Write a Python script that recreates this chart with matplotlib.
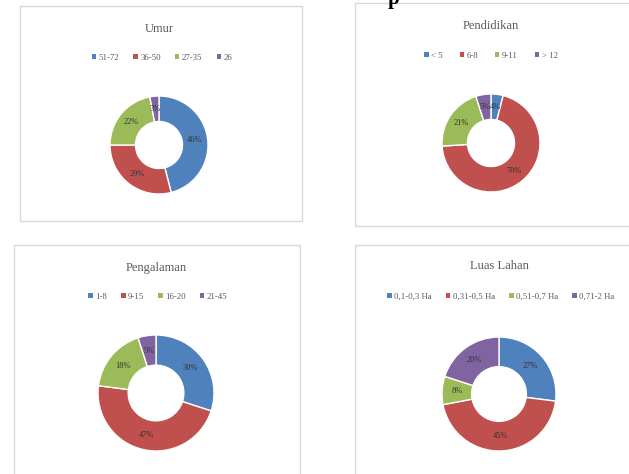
import matplotlib
matplotlib.use("Agg")
import matplotlib.pyplot as plt
import numpy as np
from matplotlib.patches import Rectangle, Patch

W, H = 629, 474

titles = ["Umur", "Pendidikan", "Pengalaman", "Luas Lahan"]
umur_labels = ["51-72", "36-50", "27-35", "26"]
umur_vals = [46, 29, 22, 3]
pend_labels = ["< 5", "6-8", "9-11", "> 12"]
pend_vals = [4, 70, 21, 5]
peng_labels = ["1-8", "9-15", "16-20", "21-45"]
peng_vals = [30, 47, 18, 5]
luas_labels = ["0,1-0,3 Ha", "0,31-0,5 Ha", "0,51-0,7 Ha", "0,71-2 Ha"]
luas_vals = [27, 45, 8, 20]

colors = ["#4F81BD", "#C0504D", "#9BBB59", "#8064A2"]

# panel layout in pixels: frame (x0, y0, x1, y1), title y, legend centre, donut centre and radius
panels = [
    dict(frame=(20, 6, 302, 221), title_y=29, leg_x=162, leg_y=58, cx=159, cy=145, r=49,
         labels=umur_labels, vals=umur_vals, colsp=1.6),
    dict(frame=(355, 3, 640, 226), title_y=26, leg_x=491, leg_y=56, cx=491, cy=143, r=49,
         labels=pend_labels, vals=pend_vals, colsp=1.9),
    dict(frame=(14, 245, 300, 480), title_y=268, leg_x=158, leg_y=297, cx=156, cy=393, r=58,
         labels=peng_labels, vals=peng_vals, colsp=1.6),
    dict(frame=(355, 245, 640, 480), title_y=266, leg_x=501, leg_y=297, cx=499, cy=394, r=57,
         labels=luas_labels, vals=luas_vals, colsp=1.6),
]

fig = plt.figure(figsize=(W / 100, H / 100), dpi=100)
fig.patch.set_facecolor("white")


def fx(x):
    return x / W


def fy(y):
    return 1 - y / H


# heading of the page, cut off by the top edge
fig.text(fx(394), fy(4), "p", fontsize=15, fontweight="bold", family="Liberation Serif",
         ha="center", va="baseline", color="black")

for p, title in zip(panels, titles):
    x0, y0, x1, y1 = p["frame"]
    fig.patches.append(Rectangle((fx(x0), fy(y1)), fx(x1) - fx(x0), fy(y0) - fy(y1),
                                 transform=fig.transFigure, fill=False,
                                 edgecolor="#D9D9D9", linewidth=1.0))
    fig.text(fx(p["cx"]), fy(p["title_y"]), title, fontsize=9, family="Liberation Serif",
             ha="center", va="center", color="#595959")

    handles = [Patch(facecolor=c, edgecolor="none") for c in colors]
    fig.legend(handles, p["labels"], loc="center", bbox_to_anchor=(fx(p["leg_x"]), fy(p["leg_y"])),
               ncol=4, frameon=False, handlelength=0.5, handleheight=0.5,
               handletextpad=0.3, columnspacing=p["colsp"], labelcolor="#595959",
               prop={"family": "Liberation Serif", "size": 6.3})

    r = p["r"]
    ax = fig.add_axes([fx(p["cx"] - r), fy(p["cy"] + r), 2 * r / W, 2 * r / H])
    inner = 0.48
    wedges, _ = ax.pie(p["vals"], colors=colors, startangle=90, counterclock=False,
                       radius=1.0, wedgeprops=dict(width=1 - inner, edgecolor="white", linewidth=1.0))
    for w, v in zip(wedges, p["vals"]):
        ang = np.deg2rad((w.theta1 + w.theta2) / 2)
        rr = (1 + inner) / 2
        ax.text(rr * np.cos(ang), rr * np.sin(ang), f"{v}%", fontsize=6,
                family="Liberation Serif", ha="center", va="center", color="#333333")
    ax.set_xlim(-1, 1)
    ax.set_ylim(-1, 1)
    ax.set_aspect("equal")
    ax.axis("off")

fig.savefig("out.png", dpi=100, facecolor="white")
